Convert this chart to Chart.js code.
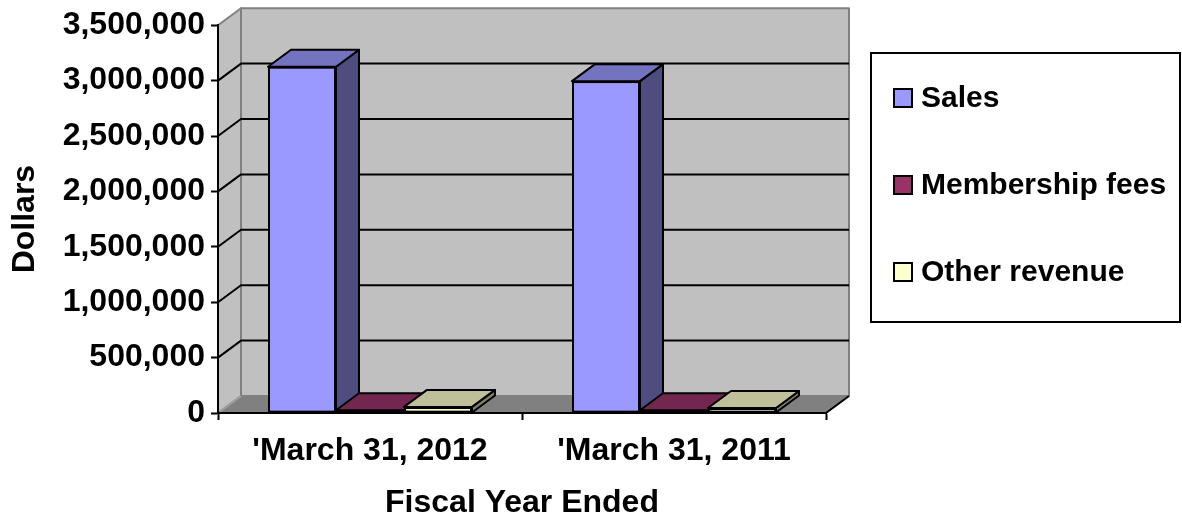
<!DOCTYPE html>
<html>
<head>
<meta charset="utf-8">
<script src="https://cdn.jsdelivr.net/npm/chart.js@4/dist/chart.umd.min.js"></script>
<style>
  body { margin: 0; background: #fff; }
</style>
</head>
<body>
<canvas id="mainChart" width="1182" height="518"></canvas>
<script>
const categories = ["'March 31, 2012", "'March 31, 2011"];
const salesValues = [3125000, 2995000];
const membershipValues = [25000, 25000];
const otherValues = [55000, 45000];
const seriesNames = ["Sales", "Membership fees", "Other revenue"];
const yMax = 3500000;
const yStep = 500000;

// excel style shading: front, top (darker), side (darkest)
const frontColors = ["#9999ff", "#993366", "#ffffcc"];
const topColors = ["#7373bf", "#732650", "#bfbf99"];
const sideColors = ["#4d4d80", "#4d1a33", "#808066"];

const DX = 23, DY = -17; // depth of the 3d box
const FONT = "'Liberation Sans', Arial, sans-serif";

function poly(ctx, pts, fill, stroke) {
  ctx.beginPath();
  pts.forEach(([px, py], i) => (i ? ctx.lineTo(px, py) : ctx.moveTo(px, py)));
  ctx.closePath();
  if (fill) { ctx.fillStyle = fill; ctx.fill(); }
  if (stroke) { ctx.strokeStyle = stroke; ctx.stroke(); }
}

function withCommas(v) {
  return String(v).replace(/\B(?=(\d{3})+(?!\d))/g, ",");
}

// walls, floor and gridlines behind everything
const walls3d = {
  id: "walls3d",
  beforeDraw(chart) {
    const { ctx, chartArea: a, scales: { y } } = chart;
    ctx.save();
    ctx.lineWidth = 2;
    ctx.lineJoin = "round";
    // left wall
    poly(ctx, [[a.left, a.bottom], [a.left, a.top], [a.left + DX, a.top + DY], [a.left + DX, a.bottom + DY]], "#c0c0c0", "#808080");
    // back wall
    poly(ctx, [[a.left + DX, a.top + DY], [a.right + DX, a.top + DY], [a.right + DX, a.bottom + DY], [a.left + DX, a.bottom + DY]], "#c0c0c0", "#808080");
    // floor
    poly(ctx, [[a.left, a.bottom], [a.left + DX, a.bottom + DY], [a.right + DX, a.bottom + DY], [a.right, a.bottom]], "#808080", null);
    ctx.strokeStyle = "#000";
    ctx.beginPath();
    ctx.moveTo(a.right, a.bottom);
    ctx.lineTo(a.right + DX, a.bottom + DY);
    ctx.stroke();
    ctx.strokeStyle = "#a0a0a0";
    ctx.beginPath();
    ctx.moveTo(a.left, a.bottom);
    ctx.lineTo(a.left + DX, a.bottom + DY);
    ctx.stroke();
    // gridlines
    ctx.strokeStyle = "#000";
    y.ticks.forEach((t) => {
      if (t.value <= 0 || t.value >= y.max) return;
      const py = y.getPixelForValue(t.value);
      ctx.beginPath();
      ctx.moveTo(a.left, py);
      ctx.lineTo(a.left + DX, py + DY);
      ctx.lineTo(a.right + DX, py + DY);
      ctx.stroke();
    });
    ctx.restore();
  },
};

// side + top faces, then the front again, left to right so nearer bars cover
const bars3d = {
  id: "bars3d",
  afterDatasetsDraw(chart) {
    const { ctx } = chart;
    const bars = [];
    chart.data.datasets.forEach((ds, i) => {
      chart.getDatasetMeta(i).data.forEach((bar) => bars.push({ bar, i }));
    });
    bars.sort((a, b) => a.bar.x - b.bar.x);
    bars.forEach(({ bar, i }) => {
      const { x, y, base, width } = bar.getProps(["x", "y", "base", "width"], true);
      const l = x - width / 2, r = x + width / 2;
      ctx.save();
      ctx.lineWidth = 2;
      ctx.lineJoin = "round";
      poly(ctx, [[r, y], [r + DX, y + DY], [r + DX, base + DY], [r, base]], sideColors[i], "#000");
      poly(ctx, [[l, y], [l + DX, y + DY], [r + DX, y + DY], [r, y]], topColors[i], "#000");
      ctx.restore();
      bar.draw(ctx);
    });
  },
};

// boxed legend on the right
const boxLegend = {
  id: "boxLegend",
  afterDraw(chart) {
    const { ctx } = chart;
    ctx.save();
    ctx.lineWidth = 2;
    ctx.strokeStyle = "#000";
    ctx.strokeRect(871, 53, 309, 269);
    ctx.font = "bold 30px " + FONT;
    ctx.textBaseline = "middle";
    seriesNames.forEach((name, i) => {
      const cy = 98 + i * 87;
      ctx.fillStyle = frontColors[i];
      ctx.fillRect(894, cy - 9, 18, 18);
      ctx.strokeRect(894, cy - 9, 18, 18);
      ctx.fillStyle = "#000";
      ctx.fillText(name, 921, cy + 1);
    });
    ctx.restore();
  },
};

const tickFont = { family: FONT, size: 32, weight: "bold" };
const titleFont = { family: FONT, size: 32, weight: "bold", lineHeight: 0.95 };

const ctx = document.getElementById("mainChart").getContext("2d");
const mainChart = new Chart(ctx, {
  type: "bar",
  data: {
    labels: categories,
    datasets: [
      { label: seriesNames[0], data: salesValues, backgroundColor: frontColors[0] },
      { label: seriesNames[1], data: membershipValues, backgroundColor: frontColors[1] },
      { label: seriesNames[2], data: otherValues, backgroundColor: frontColors[2] },
    ],
  },
  options: {
    responsive: false,
    devicePixelRatio: 1,
    animation: false,
    layout: { padding: { top: 25, right: 356, left: 0, bottom: 0 } },
    datasets: {
      bar: {
        borderColor: "#000",
        borderWidth: 2,
        borderSkipped: false,
        categoryPercentage: 0.671,
        barPercentage: 1,
      },
    },
    plugins: {
      legend: { display: false },
      tooltip: { enabled: false },
    },
    scales: {
      x: {
        ticks: { color: "#000", font: tickFont, padding: 12, maxRotation: 0, autoSkip: false },
        grid: { drawOnChartArea: false, drawTicks: true, tickLength: 7, tickColor: "#000", tickWidth: 2, offset: true },
        border: { display: true, color: "#000", width: 2 },
        title: { display: true, text: "Fiscal Year Ended", color: "#000", font: titleFont, padding: { top: 0, bottom: 0 } },
        afterFit(scale) { scale.height = 105; },
      },
      y: {
        min: 0,
        max: yMax,
        ticks: { stepSize: yStep, color: "#000", font: tickFont, padding: 6, callback: (v) => withCommas(v) },
        grid: { drawOnChartArea: false, drawTicks: true, tickLength: 7, tickColor: "#000", tickWidth: 2 },
        border: { display: true, color: "#000", width: 2 },
        title: { display: true, text: "Dollars", color: "#000", font: titleFont, padding: { top: 10, bottom: 0 } },
        afterFit(scale) { scale.width = 218; },
      },
    },
  },
  plugins: [walls3d, bars3d, boxLegend],
});
</script>
</body>
</html>
